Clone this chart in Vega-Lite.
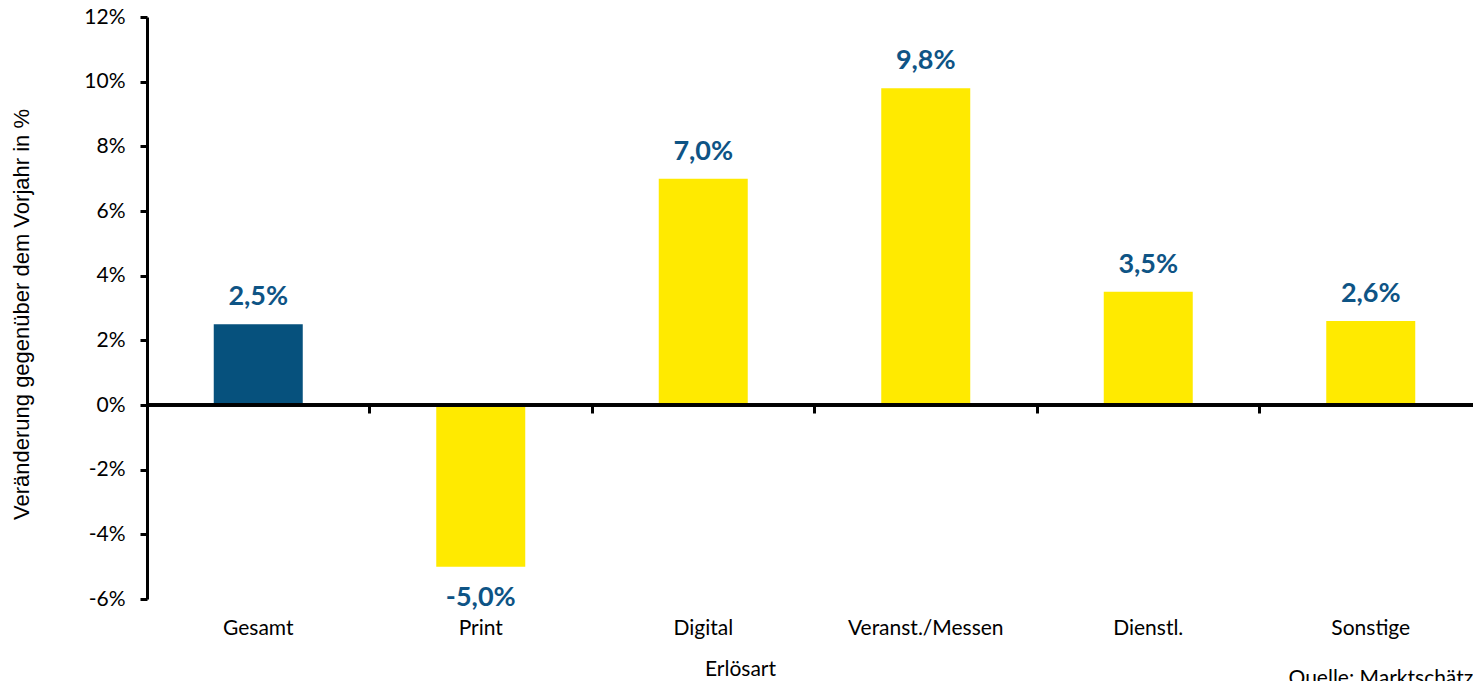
{
  "$schema": "https://vega.github.io/schema/vega-lite/v6.json",
  "width": 1326,
  "height": 582,
  "autosize": "none",
  "padding": {"left": 147, "top": 17, "right": 0, "bottom": 82},
  "background": "white",
  "config": {
    "view": {"stroke": null},
    "locale": {"number": {"decimal": ",", "thousands": ".", "grouping": [3], "currency": ["", " €"], "minus": "-"}}
  },
  "data": {
    "values": [
      {"cat": "Gesamt", "value": 0.025, "group": "Gesamt"},
      {"cat": "Print", "value": -0.05, "group": "Erlösart"},
      {"cat": "Digital", "value": 0.07, "group": "Erlösart"},
      {"cat": "Veranst./Messen", "value": 0.098, "group": "Erlösart"},
      {"cat": "Dienstl.", "value": 0.035, "group": "Erlösart"},
      {"cat": "Sonstige", "value": 0.026, "group": "Erlösart"}
    ]
  },
  "layer": [
    {
      "mark": {"type": "bar", "width": {"band": 0.4}},
      "encoding": {
        "x": {
          "field": "cat", "type": "nominal", "sort": null,
          "scale": {"paddingInner": 0, "paddingOuter": 0, "range": [0, 1335]},
          "axis": {
            "title": "Erlösart", "labelAngle": 0, "labelFont": "Lato", "labelFontSize": 21,
            "labelColor": "black", "labelPadding": 18, "domain": false, "ticks": false,
            "titleFont": "Lato", "titleFontSize": 21, "titleFontWeight": "normal", "titleColor": "black",
            "titleX": 593, "titleY": 76, "titleBaseline": "alphabetic"
          }
        },
        "y": {
          "field": "value", "type": "quantitative",
          "scale": {"domain": [-0.06, 0.12], "nice": false},
          "axis": {
            "title": "Veränderung gegenüber dem Vorjahr in %",
            "values": [-0.06, -0.04, -0.02, 0, 0.02, 0.04, 0.06, 0.08, 0.1, 0.12],
            "format": ".0%", "grid": false,
            "domainColor": "black", "domainWidth": 3,
            "tickColor": "black", "tickWidth": 3, "tickSize": 7,
            "labelPadding": 15, "labelFont": "Lato", "labelFontSize": 21, "labelColor": "black",
            "titleFont": "Liberation Sans", "titleFontSize": 22, "titleFontWeight": "normal", "titleColor": "black",
            "titleX": -119, "titleY": 297, "titleBaseline": "alphabetic"
          }
        },
        "color": {
          "field": "group", "type": "nominal",
          "scale": {"domain": ["Gesamt", "Erlösart"], "range": ["#06517D", "#FFEA00"]},
          "legend": null
        }
      }
    },
    {
      "mark": {"type": "rule", "color": "black", "strokeWidth": 3},
      "encoding": {"y": {"datum": 0, "type": "quantitative"}}
    },
    {
      "transform": [{"filter": "datum.value >= 0"}],
      "mark": {"type": "text", "baseline": "alphabetic", "dy": -19, "font": "Lato", "fontWeight": "bold", "fontSize": 27, "color": "#0E5485"},
      "encoding": {
        "x": {
          "field": "cat", "type": "nominal", "sort": null,
          "axis": {
            "orient": "bottom", "offset": -194, "labels": false, "domain": false,
            "ticks": true, "bandPosition": 0, "tickSize": 8, "tickWidth": 3, "tickColor": "black",
            "title": "Quelle: Marktschätzung", "titleX": 1141, "titleY": 279, "titleAlign": "left",
            "titleBaseline": "alphabetic", "titleFont": "Lato", "titleFontSize": 21,
            "titleFontWeight": "normal", "titleColor": "black"
          }
        },
        "y": {"field": "value", "type": "quantitative"},
        "text": {"field": "value", "type": "quantitative", "format": ".1%"}
      }
    },
    {
      "transform": [{"filter": "datum.value < 0"}],
      "mark": {"type": "text", "baseline": "top", "dy": 18, "font": "Lato", "fontWeight": "bold", "fontSize": 27, "color": "#0E5485"},
      "encoding": {
        "x": {"field": "cat", "type": "nominal", "sort": null, "axis": null},
        "y": {"field": "value", "type": "quantitative"},
        "text": {"field": "value", "type": "quantitative", "format": ".1%"}
      }
    }
  ],
  "resolve": {"axis": {"x": "independent"}}
}
